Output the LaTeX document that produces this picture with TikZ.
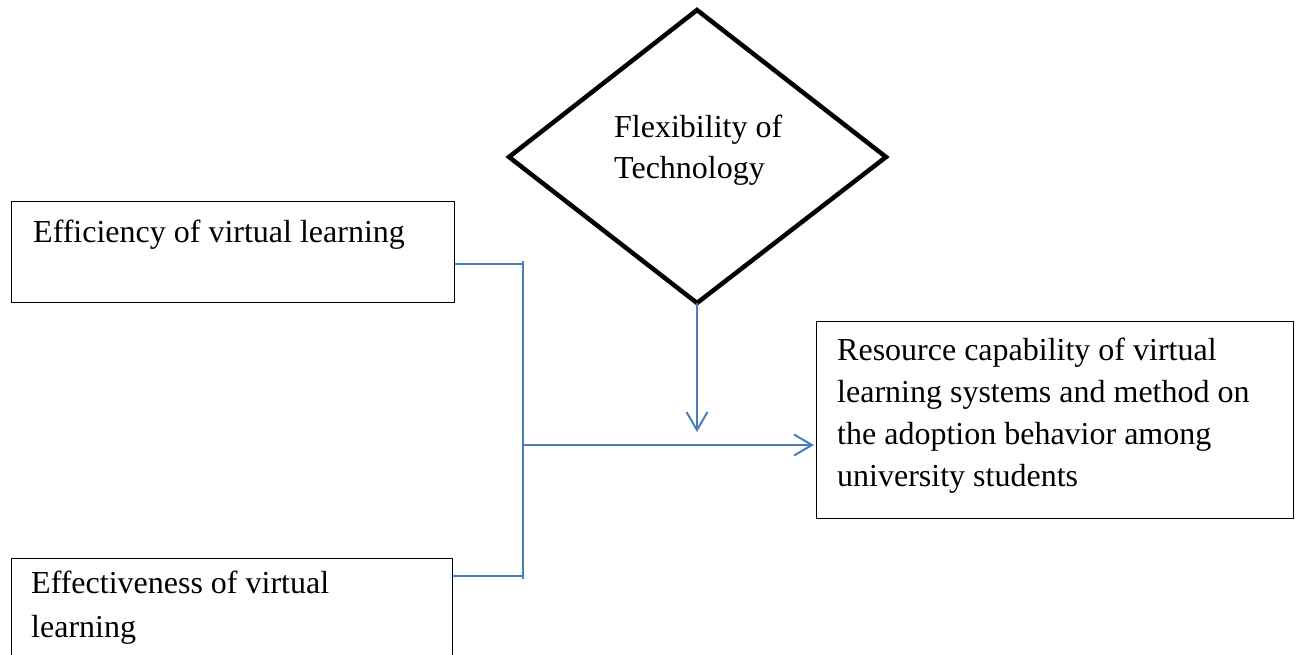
\documentclass[tikz,border=0pt]{standalone}
\usepackage{fontspec}
\setmainfont{Liberation Serif}
\usetikzlibrary{arrows.meta,calc}
\definecolor{linkblue}{HTML}{4A7EBB}
\begin{document}
\begin{tikzpicture}[x=1pt,y=-1pt,
  box/.style={draw=black,line width=1.2pt,inner sep=0pt},
  txt/.style={anchor=base west,inner sep=0pt,font=\fontsize{32}{42}\selectfont},
  link/.style={draw=linkblue,line width=2pt},
  tip/.style={-{Straight Barb[length=18pt,width=21pt,line width=2pt]}}]
\useasboundingbox (0,0) rectangle (1299,654);
\fill[white] (0,0) rectangle (1299,654);

% input boxes
\node[box,anchor=north west,minimum width=443pt,minimum height=101pt] (eff) at (11,201) {};
\node[txt] (efft) at (33,242) {Efficiency of virtual learning};

\node[box,anchor=north west,minimum width=441pt,minimum height=110pt] (effv) at (11,558) {};
\node[txt] (effvt1) at (31,593) {Effectiveness of virtual};
\node[txt] (effvt2) at (31,637) {learning};

% outcome box
\node[box,anchor=north west,minimum width=477pt,minimum height=197pt] (res) at (816,321) {};
\node[txt] (rest1) at (837,360) {Resource capability of virtual};
\node[txt] (rest2) at (837,402) {learning systems and method on};
\node[txt] (rest3) at (837,444) {the adoption behavior among};
\node[txt] (rest4) at (837,486) {university students};

% moderator diamond
\coordinate (dt) at (697,10);
\coordinate (dl) at (509,157);
\coordinate (dr) at (886,157);
\coordinate (db) at (697,303);
\draw[line width=4.5pt,line join=miter] (dt) -- (dr) -- (db) -- (dl) -- cycle;
\node[txt] (flex1) at (614,137) {Flexibility of};
\node[txt] (flex2) at (614,178) {Technology};

% connectors
\coordinate (jtop) at (523,264);
\coordinate (jmid) at (523,445);
\coordinate (jbot) at (523,576);
\draw[link] (eff.east |- jtop) -- (jtop);
\draw[link] (effv.east |- jbot) -- (jbot);
\draw[link] ($(jtop)+(0,-3)$) -- ($(jbot)+(0,3)$);
\draw[link,tip] (jmid) -- ($(res.west |- jmid)+(-2,0)$);
\coordinate (arrend) at (697,432);
\draw[link,tip] (db) -- (arrend);
\end{tikzpicture}
\end{document}
